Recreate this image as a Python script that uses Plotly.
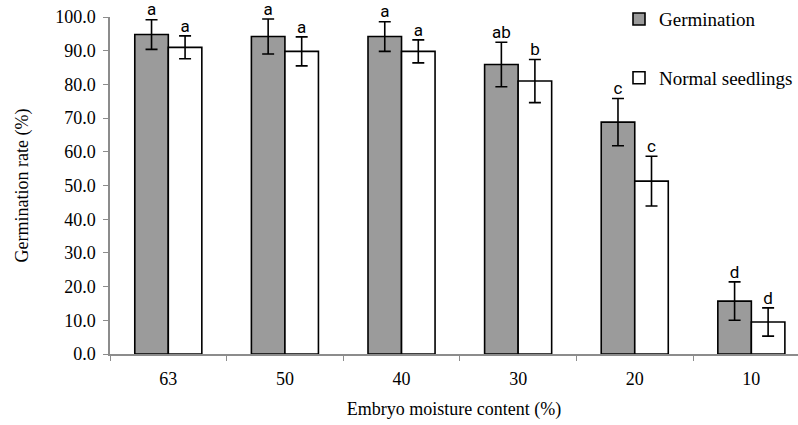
import plotly.graph_objects as go

categories = ["63", "50", "40", "30", "20", "10"]
germination = [94.8, 94.2, 94.2, 85.9, 68.8, 15.7]
germination_err = [4.4, 5.2, 4.4, 6.6, 7.0, 5.7]
normal = [91.0, 89.8, 89.8, 81.0, 51.3, 9.5]
normal_err = [3.4, 4.3, 3.4, 6.4, 7.4, 4.2]
germ_letters = ["a", "a", "a", "ab", "c", "d"]
normal_letters = ["a", "a", "a", "b", "c", "d"]

serif = "Liberation Serif"
sans = "Liberation Sans Narrow, Roboto, sans-serif"

fig = go.Figure()
fig.add_trace(go.Bar(
    x=categories, y=germination, name="Germination",
    marker=dict(color="#9b9b9b", line=dict(color="black", width=1.6)),
    error_y=dict(type="data", array=germination_err, color="black", thickness=1.6, width=6),
    offsetgroup="g", legendgroup="g",
))
fig.add_trace(go.Bar(
    x=categories, y=normal, name="Normal seedlings",
    marker=dict(color="white", line=dict(color="black", width=1.6)),
    error_y=dict(type="data", array=normal_err, color="black", thickness=1.6, width=6),
    offsetgroup="n", legendgroup="n",
))
fig.add_trace(go.Scatter(
    x=categories, y=[v + e for v, e in zip(germination, germination_err)],
    mode="text", text=germ_letters, textposition="top center",
    textfont=dict(family=sans, size=17, color="black"),
    offsetgroup="g", showlegend=False, cliponaxis=False,
))
fig.add_trace(go.Scatter(
    x=categories, y=[v + e for v, e in zip(normal, normal_err)],
    mode="text", text=normal_letters, textposition="top center",
    textfont=dict(family=sans, size=17, color="black"),
    offsetgroup="n", showlegend=False, cliponaxis=False,
))

fig.update_layout(
    width=798, height=425,
    margin=dict(l=110, r=0, t=17, b=71),
    paper_bgcolor="white", plot_bgcolor="white",
    barmode="group", bargap=0.425, bargroupgap=0,
    scattermode="group", scattergap=0.425,
    font=dict(family=serif, size=18, color="black"),
    showlegend=True,
    legend=dict(x=0.74, y=1.05, xanchor="left", yanchor="top",
                font=dict(family=serif, size=19, color="black"),
                tracegroupgap=31, itemwidth=30, bgcolor="rgba(0,0,0,0)"),
    xaxis=dict(
        type="category", range=[-0.5, 5.4],
        showline=True, linecolor="#8c8c8c", linewidth=1.5,
        ticks="outside", tickson="boundaries", ticklen=5, tickcolor="#8c8c8c",
        showgrid=False, tickfont=dict(family=serif, size=18),
        ticklabelstandoff=8,
        title=dict(text="Embryo moisture content (%)", font=dict(family=serif, size=18), standoff=14),
    ),
    yaxis=dict(
        range=[0, 100], dtick=10, tickformat=".1f",
        showline=True, linecolor="#8c8c8c", linewidth=1.5,
        ticks="outside", ticklen=5, tickcolor="#8c8c8c",
        showgrid=False, zeroline=False, tickfont=dict(family=serif, size=18),
        ticklabelstandoff=4,
        title=dict(text="Germination rate (%)", font=dict(family=serif, size=18), standoff=22),
    ),
)

fig.write_html("out.html")
